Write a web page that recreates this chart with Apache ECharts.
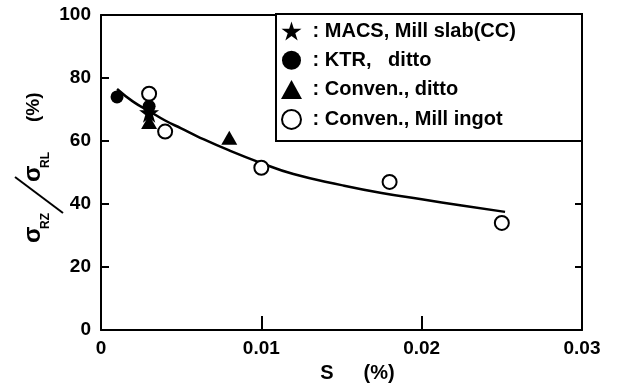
<!DOCTYPE html>
<html>
<head>
<meta charset="UTF-8">
<title>S vs sigma ratio</title>
<script src="https://cdn.jsdelivr.net/npm/echarts@6/dist/echarts.min.js"></script>
<style>
  html, body { margin: 0; padding: 0; background: #fff; }
  #chart { width: 618px; height: 387px; }
</style>
</head>
<body>
<div id="chart"></div>
<script>
// data
const macsX = [0.003];
const macsY = [69];
const ktrX = [0.001, 0.003];
const ktrY = [74, 71];
const convX = [0.003, 0.008];
const convY = [66, 61];
const ingotX = [0.003, 0.004, 0.010, 0.018, 0.025];
const ingotY = [75, 63, 51.5, 47, 34];
const fitX = [0.001, 0.002, 0.003, 0.004, 0.005, 0.006, 0.008, 0.010, 0.012, 0.015, 0.0175, 0.020, 0.0225, 0.0252];
const fitY = [76.5, 72.5, 69.5, 66.5, 64, 61.5, 57, 53, 49.5, 46, 43.5, 41.5, 39.5, 37.5];
const xTicks = [0, 0.01, 0.02, 0.03];
const yTicks = [0, 20, 40, 60, 80, 100];

const legendNames = ['MACS, Mill slab(CC)', 'KTR,   ditto', 'Conven., ditto', 'Conven., Mill ingot'];

const starPath = 'path://M50,0 L61.8,36.2 L100,36.2 L69.1,58.8 L80.9,95.1 L50,72.7 L19.1,95.1 L30.9,58.8 L0,36.2 L38.2,36.2 Z';

function zip(xs, ys) {
  return xs.map((x, i) => [x, ys[i]]);
}

const font = '"Liberation Sans", Arial, sans-serif';
const bold = (size) => ({ fontFamily: font, fontWeight: 'bold', fontSize: size, fill: '#000' });

var chart = echarts.init(document.getElementById('chart'));
var option = {
  animation: false,
  grid: { left: 101, right: 36, top: 15, bottom: 57, outerBoundsMode: 'none' },
  graphic: [{
    // legend frame
    type: 'rect',
    z: 3,
    shape: { x: 276, y: 14, width: 306, height: 127 },
    style: { fill: '#fff', stroke: '#000', lineWidth: 2 }
  }, {
    // y axis title, sigma_RZ / sigma_RL (%), turned on its side
    type: 'group',
    x: 0, y: 243,
    rotation: Math.PI / 2,
    children: [
      { type: 'text', x: 0, y: 33, style: Object.assign(bold(24), { text: 'σ', verticalAlign: 'middle' }) },
      { type: 'text', x: 14, y: 46, style: Object.assign(bold(12), { text: 'RZ', verticalAlign: 'middle' }) },
      { type: 'line', shape: { x1: 30, y1: 63, x2: 66, y2: 15 }, style: { stroke: '#000', lineWidth: 2 } },
      { type: 'text', x: 61, y: 33, style: Object.assign(bold(24), { text: 'σ', verticalAlign: 'middle' }) },
      { type: 'text', x: 75, y: 46, style: Object.assign(bold(12), { text: 'RL', verticalAlign: 'middle' }) },
      { type: 'text', x: 121, y: 34, style: Object.assign(bold(19), { text: '(%)', verticalAlign: 'middle' }) }
    ]
  }],
  legend: {
    orient: 'vertical',
    left: 281,
    top: 21,
    z: 5,
    padding: 0,
    itemWidth: 21,
    itemHeight: 19,
    itemGap: 9.3,
    data: legendNames,
    formatter: name => ' : ' + name,
    textStyle: { fontFamily: font, fontWeight: 'bold', fontSize: 20, lineHeight: 18, color: '#000' }
  },
  xAxis: [{
    type: 'value',
    min: 0, max: 0.03, interval: 0.01,
    name: '{a|S}{b|(%)}',
    nameLocation: 'middle',
    nameGap: 33,
    nameTextStyle: {
      rich: {
        a: { fontFamily: font, fontWeight: 'bold', fontSize: 20, color: '#000', padding: [0, 0, 0, 32] },
        b: { fontFamily: font, fontWeight: 'bold', fontSize: 20, color: '#000', padding: [0, 0, 0, 30] }
      }
    },
    axisLine: { onZero: false, lineStyle: { color: '#000', width: 2 } },
    axisTick: { inside: true, length: 14, lineStyle: { color: '#000', width: 2 } },
    axisLabel: {
      margin: 9, fontFamily: font, fontWeight: 'bold', fontSize: 19, color: '#000',
      formatter: v => xTicks.includes(+v.toFixed(2)) ? String(+v.toFixed(2)) : ''
    },
    splitLine: { show: false }
  }, {
    type: 'value', position: 'top',
    min: 0, max: 0.03, interval: 0.01,
    axisLine: { onZero: false, lineStyle: { color: '#000', width: 2 } },
    axisTick: { show: false },
    axisLabel: { show: false },
    splitLine: { show: false }
  }],
  yAxis: [{
    type: 'value',
    min: 0, max: 100, interval: 20,
    axisLine: { onZero: false, lineStyle: { color: '#000', width: 2 } },
    axisTick: { inside: true, length: 8, lineStyle: { color: '#000', width: 2 } },
    axisLabel: {
      margin: 10, fontFamily: font, fontWeight: 'bold', fontSize: 19, color: '#000',
      formatter: v => yTicks.includes(v) ? String(v) : ''
    },
    splitLine: { show: false }
  }, {
    type: 'value', position: 'right',
    min: 0, max: 100, interval: 20,
    axisLine: { onZero: false, lineStyle: { color: '#000', width: 2 } },
    axisTick: { inside: true, length: 7, lineStyle: { color: '#000', width: 2 } },
    axisLabel: { show: false },
    splitLine: { show: false }
  }],
  series: [{
    name: 'fit',
    type: 'line',
    smooth: true,
    showSymbol: false,
    data: zip(fitX, fitY),
    lineStyle: { color: '#000', width: 2.5 },
    z: 2
  }, {
    name: legendNames[3],
    type: 'scatter',
    symbol: 'circle',
    symbolSize: 14,
    data: zip(ingotX, ingotY),
    itemStyle: { color: '#fff', borderColor: '#000', borderWidth: 2, opacity: 1 },
    z: 3
  }, {
    name: legendNames[1],
    type: 'scatter',
    symbol: 'circle',
    symbolSize: 13,
    data: zip(ktrX, ktrY),
    itemStyle: { color: '#000', opacity: 1 },
    z: 4
  }, {
    name: legendNames[2],
    type: 'scatter',
    symbol: 'triangle',
    symbolSize: [16, 14],
    data: zip(convX, convY),
    itemStyle: { color: '#000', opacity: 1 },
    z: 4
  }, {
    name: legendNames[0],
    type: 'scatter',
    symbol: starPath,
    symbolSize: 20,
    data: zip(macsX, macsY),
    itemStyle: { color: '#000', opacity: 1 },
    z: 5
  }]
};
chart.setOption(option);
</script>
</body>
</html>
